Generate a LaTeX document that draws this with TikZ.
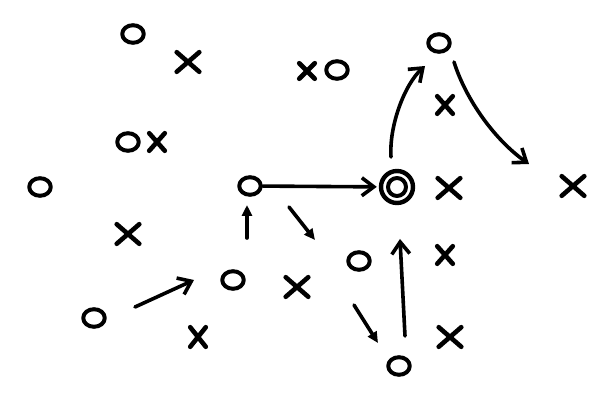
\documentclass[tikz,border=0pt]{standalone}
\usetikzlibrary{arrows.meta,shapes.geometric,shapes.misc}
\begin{document}
\begin{tikzpicture}[x=0.5pt,y=-0.5pt,
                    line width=1.8pt,
                    line cap=round,
                    line join=round]
    \tikzstyle{attacker}=[ellipse,draw,line width=2pt,inner sep=0pt,minimum width=10.8pt,minimum height=8.8pt]
    \tikzstyle{defender}=[cross out,draw,line width=2.3pt,inner sep=0pt,minimum width=9pt,minimum height=7.5pt]
    \tikzstyle{smalldef}=[defender,minimum width=5.5pt,minimum height=6.5pt]
    \tikzstyle{ballout}=[circle,draw,line width=2.2pt,inner sep=0pt,minimum size=16pt]
    \tikzstyle{ballin}=[circle,draw,line width=2pt,inner sep=0pt,minimum size=9pt]
    \tikzstyle{run}=[-{Straight Barb[length=6pt,width=9pt,line width=1.8pt]}]
    \tikzstyle{cut}=[-{Triangle[length=5.5pt,width=5pt]}]

    \useasboundingbox (0,0) rectangle (612,401);

    \node[attacker] (otop) at (133,34) {};
    \node[attacker] (omid) at (337,70) {};
    \node[attacker] (oleft) at (128,142) {};
    \node[attacker] (owing) at (40,187) {};
    \node[attacker] (oqb) at (250,186) {};
    \node[attacker] (ofar) at (439,43) {};
    \node[attacker] (oslot) at (359,261) {};
    \node[attacker] (oback) at (233,280) {};
    \node[attacker] (olow) at (94,318) {};
    \node[attacker] (obottom) at (399,366) {};

    \node[ballout] (ball) at (397,187) {};
    \node[ballin] (ballcore) at (397,187) {};

    \node[defender] (xtop) at (188,62) {};
    \node[smalldef,minimum height=5.5pt] (xmid) at (307,71) {};
    \node[smalldef] (xleft) at (157,142) {};
    \node[smalldef] (xfar) at (445,105) {};
    \node[defender] (xball) at (449,188) {};
    \node[defender] (xwing) at (573,186) {};
    \node[defender] (xlow) at (128,234) {};
    \node[defender] (xback) at (297,287) {};
    \node[smalldef] (xslot) at (445,255) {};
    \node[smalldef,minimum height=7.5pt] (xdeep) at (198,337) {};
    \node[defender] (xbottom) at (450,337) {};

    \coordinate (b1) at (247,238);
    \coordinate (b2) at (247,205);
    \coordinate (c1) at (289,207);
    \coordinate (c2) at (315,240);
    \coordinate (d1) at (135,307);
    \coordinate (d2) at (194,280);
    \coordinate (e1) at (391,157);
    \coordinate (e2) at (425,66);
    \coordinate (f1) at (454,62);
    \coordinate (f2) at (529,164);
    \coordinate (g1) at (354,305);
    \coordinate (g2) at (378,343);
    \coordinate (h1) at (405,336);
    \coordinate (h2) at (400,239);

    \draw[run,shorten >=1pt] (oqb) -- (ball);
    \draw[cut] (b1) -- (b2);
    \draw[cut] (c1) -- (c2);
    \draw[run] (d1) -- (d2);
    \draw[run] (e1) .. controls (389,125) and (405,84) .. (e2);
    \draw[run] (f1) .. controls (466,100) and (495,140) .. (f2);
    \draw[cut] (g1) -- (g2);
    \draw[run] (h1) -- (h2);

\end{tikzpicture}
\end{document}
